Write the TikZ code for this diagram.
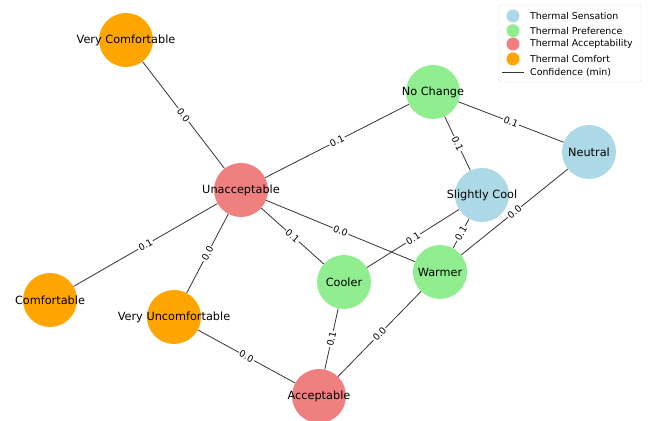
\documentclass[tikz,border=0pt]{standalone}
\usepackage{fontspec}
\setmainfont{DejaVu Sans}
\definecolor{sens}{HTML}{ADD8E6}
\definecolor{pref}{HTML}{90EE90}
\definecolor{acc}{HTML}{F08080}
\definecolor{comf}{HTML}{FFA500}
\definecolor{edgec}{HTML}{333333}
\begin{document}
\begin{tikzpicture}[x=1pt,y=1pt,
  vert/.style={circle,minimum size=54pt,inner sep=0pt},
  lbl/.style={inner sep=0pt,font=\fontsize{11.3}{13}\selectfont},
  link/.style={draw=edgec,line width=0.8pt},
  wt/.style={midway,sloped,fill=white,inner sep=1pt,font=\fontsize{9.3}{10}\selectfont},
  legmark/.style={circle,minimum size=13pt,inner sep=0pt},
  legtext/.style={anchor=west,inner sep=0pt,font=\fontsize{9.4}{10}\selectfont}]
\useasboundingbox (0,0) rectangle (650,420);
% nodes
\node[vert,fill=comf] (vc) at (126,380) {};
\node[vert,fill=pref] (nc) at (433,328) {};
\node[vert,fill=sens] (ne) at (589,268) {};
\node[vert,fill=acc] (un) at (241,230) {};
\node[vert,fill=sens] (sc) at (482,225) {};
\node[vert,fill=comf] (co) at (50,120) {};
\node[vert,fill=comf] (vu) at (174,103) {};
\node[vert,fill=pref] (cl) at (344,138) {};
\node[vert,fill=pref] (wa) at (440,148) {};
\node[vert,fill=acc] (ac) at (319,24) {};
% edges
\path[link] (vc) -- node[wt]{0.0} (un);
\path[link] (un) -- node[wt]{0.1} (nc);
\path[link] (nc) -- node[wt]{0.1} (ne);
\path[link] (nc) -- node[wt]{0.1} (sc);
\path[link] (un) -- node[wt]{0.1} (co);
\path[link] (un) -- node[wt]{0.0} (vu);
\path[link] (un) -- node[wt]{0.1} (cl);
\path[link] (un) -- node[wt]{0.0} (wa);
\path[link] (sc) -- node[wt]{0.1} (cl);
\path[link] (sc) -- node[wt]{0.1} (wa);
\path[link] (ne) -- node[wt]{0.0} (wa);
\path[link] (wa) -- node[wt]{0.0} (ac);
\path[link] (cl) -- node[wt]{0.1} (ac);
\path[link] (vu) -- node[wt]{0.0} (ac);
% node texts
\node[lbl] (tvc) at (vc) {Very Comfortable};
\node[lbl] (tnc) at (nc) {No Change};
\node[lbl] (tne) at (ne) {Neutral};
\node[lbl] (tun) at (un) {Unacceptable};
\node[lbl] (tsc) at (sc) {Slightly Cool};
\node[lbl] (tco) at (co) {Comfortable};
\node[lbl] (tvu) at (vu) {Very Uncomfortable};
\node[lbl] (tcl) at (cl) {Cooler};
\node[lbl] (twa) at (wa) {Warmer};
\node[lbl] (tac) at (ac) {Acceptable};
% legend
\node[draw=black!15,rounded corners=2pt,minimum width=142pt,minimum height=77pt,inner sep=0pt,fill=white] (leg) at (570,376.5) {};
\node[legmark,fill=sens] (m1) at (513,404) {};
\node[legmark,fill=pref] (m2) at (513,389.3) {};
\node[legmark,fill=acc] (m3) at (513,376) {};
\node[legmark,fill=comf] (m4) at (513,361) {};
\coordinate (l1) at (502,347.3);
\coordinate (l2) at (524,347.3);
\draw[edgec,line width=1.4pt] (l1) -- (l2);
\node[legtext] (t1) at (530,404) {Thermal Sensation};
\node[legtext] (t2) at (530,389.3) {Thermal Preference};
\node[legtext] (t3) at (530,376) {Thermal Acceptability};
\node[legtext] (t4) at (530,361) {Thermal Comfort};
\node[legtext] (t5) at (530,347.3) {Confidence (min)};
\end{tikzpicture}
\end{document}
